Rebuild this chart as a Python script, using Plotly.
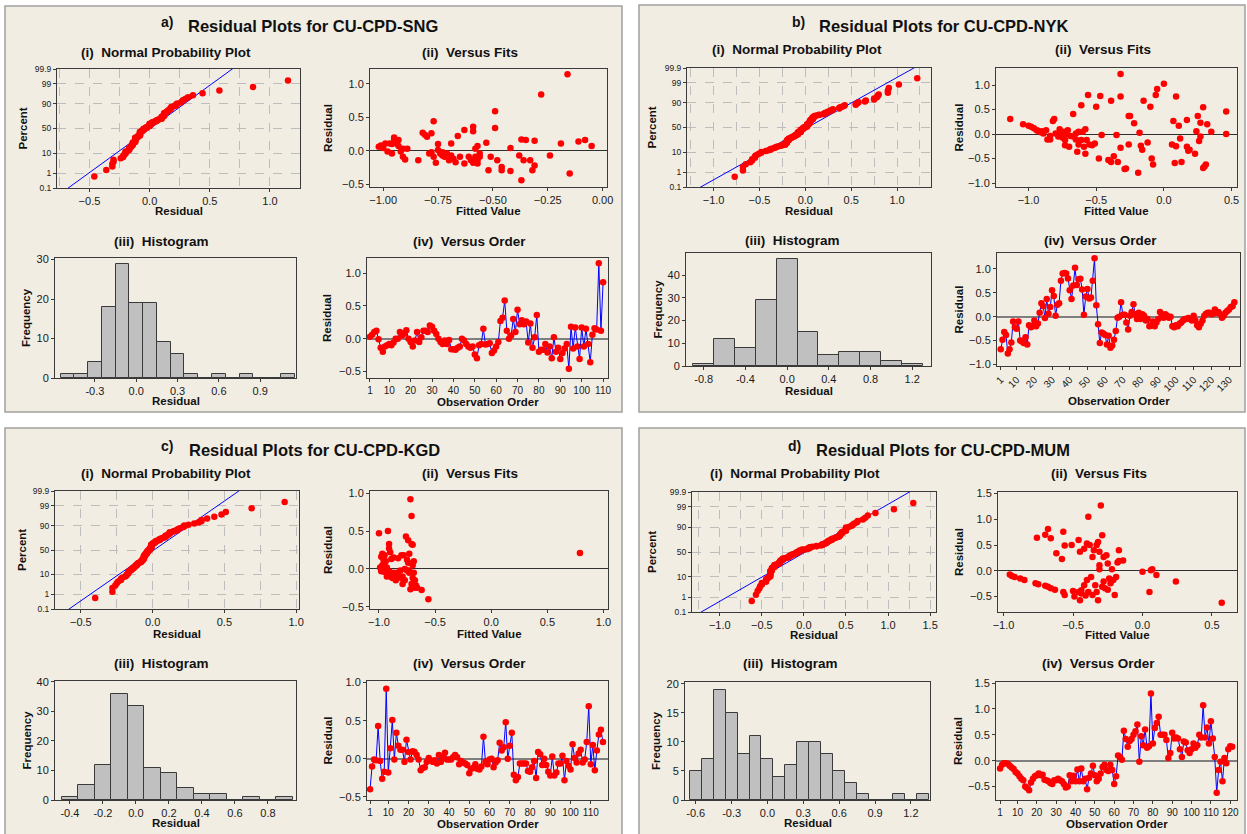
import plotly.graph_objects as go
from statistics import NormalDist, mean, stdev

# ------------------------------------------------------------------ data
resid_sng = [0.03, 0.06, 0.10, 0.12, -0.01, -0.14, -0.20, -0.12, -0.10, -0.08,
             -0.10, -0.06, 0.00, 0.00, 0.10, 0.05, 0.08, 0.13, 0.00, -0.05,
             -0.12, -0.03, 0.10, -0.05, 0.02, 0.12, 0.12, 0.10, 0.20, 0.18,
             0.12, 0.07, 0.00, -0.05, -0.08, -0.03, -0.08, -0.02, -0.16, -0.16,
             -0.17, -0.14, -0.12, 0.00, -0.03, -0.08, -0.12, -0.14, -0.12, -0.24,
             -0.30, -0.10, -0.08, 0.15, -0.09, -0.08, -0.07, -0.22, -0.18, -0.12,
             -0.05, 0.27, 0.32, 0.58, 0.12, 0.00, 0.05, 0.30, 0.10, 0.44,
             0.22, 0.28, 0.22, 0.26, -0.06, 0.23, -0.14, 0.02, 0.36, -0.20,
             -0.17, -0.17, -0.08, -0.21, -0.12, -0.30, 0.02, -0.20, -0.14, -0.31,
             -0.22, -0.15, -0.08, -0.46, 0.18, -0.15, 0.17, -0.12, -0.31, 0.17,
             -0.12, 0.15, -0.08, -0.36, 0.06, 0.16, 0.14, 1.15, 0.12, 0.86]

resid_nyk = [-0.68, -0.48, -0.32, -0.38, -0.77, -0.68, -0.54, -0.10, -0.22, -0.25,
             -0.10, -0.50, -0.52, -0.55, -0.43, -0.58, -0.18, -0.22, -0.20, -0.08,
             -0.20, -0.14, 0.08, 0.28, 0.22, -0.03, 0.37, 0.06, 0.20, 0.55,
             0.43, 0.02, 0.25, 0.28, 0.75, 0.90, 0.91, 0.90, 0.80, 0.55,
             0.37, 0.65, 1.02, 0.66, 0.78, 0.79, 0.57, 0.04, 0.42, 0.58,
             0.38, 0.40, 0.75, 1.22, 0.24, -0.16, -0.55, -0.33, -0.35, -0.38,
             -0.58, -0.40, -0.65, -0.60, -0.48, -0.30, -0.02, 0.00, 0.30, 0.04,
             0.04, -0.12, -0.27, 0.02, 0.10, 0.26, 0.05, -0.05, 0.08, -0.05,
             0.05, 0.02, -0.08, -0.05, -0.20, -0.18, -0.10, -0.20, -0.12, -0.05,
             0.10, 0.05, -0.02, 0.05, 0.02, -0.02, 0.00, -0.20, -0.22, -0.18,
             -0.20, -0.15, -0.12, -0.08, -0.05, -0.05, -0.03, -0.05, -0.08, 0.02,
             -0.08, -0.18, -0.22, -0.15, -0.08, 0.02, 0.06, 0.08, 0.08, 0.05,
             0.06, 0.15, 0.08, 0.10, 0.05, -0.02, 0.02, 0.08, 0.12, 0.15,
             0.20, 0.22, 0.30]

resid_kgd = [-0.40, -0.10, -0.01, -0.02, 0.43, -0.03, -0.26, -0.17, 0.92, -0.18,
             0.14, 0.51, -0.01, 0.34, 0.17, 0.12, 0.12, -0.04, 0.25, 0.09,
             -0.01, 0.10, 0.09, 0.05, -0.01, -0.15, -0.12, -0.11, -0.04, 0.01,
             -0.02, -0.04, -0.02, -0.06, 0.05, -0.04, 0.02, 0.08, -0.01, -0.01,
             -0.01, 0.02, 0.05, 0.02, -0.07, -0.03, -0.05, -0.06, -0.08, -0.19,
             -0.13, -0.12, -0.07, -0.13, -0.14, -0.10, 0.29, -0.04, -0.07, -0.01,
             0.00, -0.11, -0.05, -0.02, 0.21, 0.11, 0.15, 0.48, 0.00, 0.17,
             0.34, -0.21, -0.28, -0.24, -0.06, -0.06, -0.06, -0.06, -0.16, -0.17,
             -0.11, -0.03, -0.25, 0.09, 0.06, -0.08, 0.00, -0.08, -0.17, -0.22,
             0.03, -0.22, -0.18, -0.06, -0.06, 0.04, -0.28, -0.03, -0.09, -0.14,
             0.19, 0.01, -0.05, 0.07, 0.12, -0.05, -0.01, 0.22, 0.69, -0.07,
             0.18, -0.15, 0.11, 0.32, 0.38, 0.22]

resid_mum = [-0.15, -0.08, -0.05, -0.05, -0.06, -0.10, -0.13, -0.16, -0.22, -0.25,
             -0.30, -0.35, -0.38, -0.50, -0.53, -0.57, -0.42, -0.35, -0.30, -0.28,
             -0.25, -0.28, -0.27, -0.37, -0.38, -0.40, -0.43, -0.45, -0.38, -0.38,
             -0.35, -0.38, -0.40, -0.45, -0.52, -0.50, -0.28, -0.40, -0.29, -0.40,
             -0.17, -0.40, -0.15, -0.40, -0.35, -0.55, -0.33, -0.25, -0.10, -0.28,
             -0.40, -0.35, -0.25, -0.12, -0.08, -0.18, -0.20, -0.08, -0.18, -0.45,
             -0.30, 0.10, 0.07, 0.02, 0.58, 0.42, 0.27, 0.38, 0.42, 0.50,
             0.57, 0.70, -0.02, 0.47, 0.30, 0.60, 0.25, 0.28, 1.30, 0.33,
             0.63, 0.73, 0.85, 0.50, 0.50, 0.50, 0.40, 0.05, 0.15, 0.54,
             0.43, 0.45, 0.43, 0.22, 0.07, 0.37, 0.35, 0.20, 0.15, 0.22,
             0.33, 0.25, 0.30, 0.50, 0.45, 1.07, 0.45, 0.64, 0.33, 0.76,
             0.43, 0.07, -0.62, -0.18, -0.02, -0.40, 0.05, -0.05, 0.22, 0.28,
             0.27]

fits_sng = [(-1.02, 0.06), (-1.01, 0.08), (-1.00, 0.04), (-0.99, 0.11), (-0.98, -0.01),
            (-0.97, 0.11), (-0.96, 0.10), (-0.95, 0.17), (-0.95, 0.20), (-0.94, 0.11),
            (-0.93, 0.16), (-0.93, 0.07), (-0.92, -0.01), (-0.96, -0.04), (-0.91, -0.09),
            (-0.91, 0.03), (-0.90, -0.13), (-0.89, 0.03), (-0.84, -0.14), (-0.82, 0.27),
            (-0.81, 0.24), (-0.80, 0.21), (-0.78, 0.26), (-0.77, 0.44), (-0.79, -0.04),
            (-0.78, -0.02), (-0.77, -0.09), (-0.76, -0.18), (-0.75, 0.01), (-0.75, 0.10),
            (-0.74, -0.04), (-0.73, -0.07), (-0.73, -0.02), (-0.72, -0.09), (-0.71, -0.04),
            (-0.70, -0.14), (-0.69, 0.11), (-0.69, -0.07), (-0.68, -0.12), (-0.67, -0.17),
            (-0.66, 0.22), (-0.65, -0.09), (-0.63, -0.19), (-0.61, -0.09), (-0.60, -0.14),
            (-0.59, -0.18), (-0.58, -0.09), (-0.57, -0.19), (-0.57, -0.14), (-0.56, -0.04),
            (-0.63, 0.31), (-0.59, 0.36), (-0.59, 0.29), (-0.58, 0.03), (-0.57, 0.07),
            (-0.56, -0.09), (-0.53, 0.12), (-0.52, -0.29), (-0.51, -0.09), (-0.49, 0.59),
            (-0.49, 0.34), (-0.48, -0.14), (-0.46, -0.24), (-0.46, -0.29), (-0.42, 0.04),
            (-0.42, -0.30), (-0.38, -0.07), (-0.37, -0.44), (-0.37, 0.17), (-0.36, -0.14),
            (-0.35, 0.16), (-0.33, -0.14), (-0.32, -0.29), (-0.31, -0.22), (-0.31, 0.15),
            (-0.28, 0.84), (-0.24, -0.07), (-0.19, 0.11), (-0.16, 1.14), (-0.15, -0.34),
            (-0.11, 0.14), (-0.08, 0.16), (-0.05, 0.07)]

fits_nyk = [(-1.135, 0.31), (-1.04, 0.20), (-1.00, 0.17), (-0.98, 0.15), (-0.96, 0.12),
            (-0.94, 0.08), (-0.93, 0.07), (-0.91, 0.04), (-0.90, 0.06), (-0.89, 0.01),
            (-0.87, 0.08), (-0.86, -0.11), (-0.84, -0.04), (-0.84, -0.11), (-0.82, 0.27),
            (-0.81, 0.31), (-0.80, 0.01), (-0.78, -0.05), (-0.77, 0.10), (-0.76, 0.00),
            (-0.75, -0.07), (-0.74, 0.05), (-0.73, -0.12), (-0.73, -0.23), (-0.72, 0.00),
            (-0.71, 0.08), (-0.70, -0.26), (-0.69, -0.04), (-0.67, 0.41), (-0.67, -0.05),
            (-0.65, -0.11), (-0.65, 0.01), (-0.64, -0.36), (-0.63, 0.05), (-0.63, -0.21),
            (-0.61, -0.12), (-0.61, 0.59), (-0.60, 0.05), (-0.59, -0.26), (-0.58, 0.10),
            (-0.58, -0.40), (-0.57, -0.12), (-0.56, 0.80), (-0.55, -0.21), (-0.53, -0.23),
            (-0.51, -0.19), (-0.50, 0.56), (-0.48, -0.50), (-0.47, 0.78), (-0.46, -0.02),
            (-0.41, -0.53), (-0.39, -0.57), (-0.39, 0.68), (-0.37, -0.45), (-0.35, -0.02),
            (-0.34, -0.57), (-0.32, 1.23), (-0.32, 0.77), (-0.32, -0.28), (-0.29, -0.71),
            (-0.28, -0.70), (-0.26, 0.37), (-0.25, 0.37), (-0.26, -0.21), (-0.22, 0.22),
            (-0.19, -0.79), (-0.18, 0.03), (-0.17, -0.24), (-0.16, -0.32), (-0.15, 0.68),
            (-0.12, -0.17), (-0.10, 0.56), (-0.09, -0.50), (-0.08, -0.62), (-0.06, 0.80),
            (-0.05, 0.92), (0.00, 1.03), (0.06, -0.21), (0.07, 0.27), (0.08, -0.59),
            (0.09, 0.77), (0.09, -0.25), (0.11, 0.17), (0.12, -0.09), (0.13, -0.57),
            (0.17, 0.29), (0.17, -0.26), (0.18, -0.34), (0.19, -0.32), (0.23, -0.40),
            (0.24, 0.06), (0.25, 0.37), (0.26, -0.14), (0.27, -0.05), (0.27, 0.23),
            (0.29, 0.55), (0.29, -0.69), (0.30, -0.66), (0.31, -0.62), (0.32, 0.20),
            (0.35, 0.05), (0.46, 0.46), (0.46, 0.00)]

fits_kgd = [(-1.00, 0.47), (-0.92, 0.50), (-0.99, 0.02), (-0.98, -0.01), (-0.97, 0.05),
            (-0.96, 0.12), (-0.95, 0.18), (-0.97, 0.20), (-0.98, 0.16), (-0.96, -0.02),
            (-0.95, -0.04), (-0.94, 0.00), (-0.93, 0.02), (-0.92, -0.06), (-0.91, 0.27),
            (-0.91, 0.33), (-0.90, 0.22), (-0.95, 0.08), (-0.93, -0.10), (-0.90, -0.10),
            (-0.89, 0.13), (-0.88, -0.12), (-0.87, 0.15), (-0.87, -0.05), (-0.86, -0.09),
            (-0.85, -0.15), (-0.84, -0.05), (-0.83, -0.08), (-0.82, -0.10), (-0.81, -0.02),
            (-0.80, 0.18), (-0.79, -0.10), (-0.79, -0.20), (-0.78, 0.18), (-0.77, -0.15),
            (-0.76, 0.43), (-0.75, -0.02), (-0.74, 0.38), (-0.74, 0.08), (-0.73, -0.02),
            (-0.72, 0.92), (-0.71, 0.70), (-0.71, 0.33), (-0.72, -0.27), (-0.73, 0.20),
            (-0.70, 0.05), (-0.70, -0.12), (-0.69, -0.05), (-0.71, -0.20), (-0.68, -0.25),
            (-0.67, -0.22), (-0.68, -0.15), (-0.66, -0.25), (-0.70, 0.32), (-0.69, 0.10),
            (-0.62, -0.28), (-0.56, -0.40), (0.79, 0.21), (-0.98, -0.03), (-0.96, 0.06),
            (-0.94, 0.10), (-0.91, -0.03), (-0.89, -0.08), (-0.85, -0.12), (-0.83, 0.14),
            (-0.80, -0.12), (-0.77, 0.00), (-0.75, 0.12), (-0.73, -0.05)]

fits_mum = [(-0.955, -0.07), (-0.94, -0.10), (-0.92, -0.12), (-0.88, -0.15), (-0.85, -0.18),
            (-0.77, -0.24), (-0.75, -0.26), (-0.70, -0.29), (-0.68, -0.31), (-0.66, -0.34),
            (-0.63, -0.37), (-0.62, 0.34), (-0.58, 0.23), (-0.57, -0.41), (-0.56, -0.47),
            (-0.57, 0.76), (-0.56, 0.49), (-0.76, 0.64), (-0.70, 0.70), (-0.68, 0.81),
            (-0.66, 0.63), (-0.51, 0.50), (-0.50, -0.39), (-0.49, -0.50), (-0.46, -0.41),
            (-0.46, 0.60), (-0.45, 0.37), (-0.44, -0.38), (-0.44, -0.44), (-0.45, -0.57),
            (-0.42, 0.43), (-0.42, -0.28), (-0.41, -0.48), (-0.40, 0.53), (-0.40, -0.18),
            (-0.39, -0.41), (-0.39, 1.05), (-0.38, 0.50), (-0.37, -0.12), (-0.36, -0.47),
            (-0.36, 0.27), (-0.35, 0.40), (-0.34, -0.28), (-0.33, -0.41), (-0.32, -0.57),
            (-0.33, 0.50), (-0.32, 0.56), (-0.31, 0.11), (-0.31, 0.03), (-0.31, 0.37),
            (-0.30, 1.27), (-0.29, 0.69), (-0.29, -0.31), (-0.28, 0.27), (-0.28, -0.21),
            (-0.27, -0.34), (-0.26, 0.30), (-0.25, 0.14), (-0.25, -0.37), (-0.24, -0.15),
            (-0.23, -0.24), (-0.22, 0.03), (-0.21, -0.18), (-0.20, -0.47), (-0.19, -0.12),
            (-0.18, 0.16), (-0.17, 0.40), (-0.17, 0.19), (-0.14, 0.20), (0.00, -0.02),
            (0.06, 0.01), (0.07, 0.03), (0.05, -0.41), (0.10, -0.08), (0.24, -0.21),
            (0.57, -0.62)]

# histogram bins (centres) and frequencies
hist_sng_bins = [-0.5, -0.4, -0.3, -0.2, -0.1, 0.0, 0.1, 0.2, 0.3, 0.4, 0.5, 0.6, 0.7, 0.8, 0.9, 1.0, 1.1]
hist_sng_freq = [1, 1, 4, 18, 29, 19, 19, 9, 6, 1, 0, 1, 0, 1, 0, 0, 1]
hist_nyk_bins = [-0.8, -0.6, -0.4, -0.2, 0.0, 0.2, 0.4, 0.6, 0.8, 1.0, 1.2]
hist_nyk_freq = [1, 12, 8, 29, 47, 15, 5, 6, 6, 2, 1]
hist_kgd_bins = [-0.4, -0.3, -0.2, -0.1, 0.0, 0.1, 0.2, 0.3, 0.4, 0.5, 0.6, 0.7, 0.8, 0.9]
hist_kgd_freq = [1, 5, 12, 36, 32, 11, 9, 4, 2, 2, 0, 1, 0, 1]
hist_mum_bins = [-0.6, -0.5, -0.4, -0.3, -0.2, -0.1, 0.0, 0.1, 0.2, 0.3, 0.4, 0.5, 0.6, 0.7,
                 0.8, 0.9, 1.0, 1.1, 1.2, 1.3]
hist_mum_freq = [5, 7, 19, 15, 8, 11, 7, 4, 6, 10, 10, 8, 5, 3, 1, 0, 0, 1, 0, 1]

pct_levels = [0.1, 1, 10, 50, 90, 99, 99.9]
pct_labels = ["0.1", "1", "10", "50", "90", "99", "99.9"]

order_ticks_sng = [1, 10, 20, 30, 40, 50, 60, 70, 80, 90, 100, 110]
order_ticks_nyk = [1, 10, 20, 30, 40, 50, 60, 70, 80, 90, 100, 110, 120, 130]
order_ticks_kgd = [1, 10, 20, 30, 40, 50, 60, 70, 80, 90, 100, 110]
order_ticks_mum = [1, 10, 20, 30, 40, 50, 60, 70, 80, 90, 100, 110, 120]

hist_ticks_sng = [-0.3, 0.0, 0.3, 0.6, 0.9]
hist_ticks_nyk = [-0.8, -0.4, 0.0, 0.4, 0.8, 1.2]
hist_ticks_kgd = [-0.4, -0.2, 0.0, 0.2, 0.4, 0.6, 0.8]
hist_ticks_mum = [-0.6, -0.3, 0.0, 0.3, 0.6, 0.9, 1.2]

# ------------------------------------------------------------------ layout / style
W, H = 1247, 834
FONT = "Liberation Sans"
BEIGE = "#F1EDE3"
RED = "#FF0000"
BLUE = "#0000FF"
GRID = "#BDBDBD"
AXC = "#3A3A3A"

panels = [
    dict(letter="a)", name="Residual Plots for CU-CPD-SNG", resid=resid_sng, fits=fits_sng,
         hb=hist_sng_bins, hf=hist_sng_freq, hw=0.1, hticks=hist_ticks_sng, oticks=order_ticks_sng,
         border=(5, 6, 622, 412), letter_xy=(167, 22), title_xy=(313, 26),
         sub_y=(52, 242), xt_y=(211, 401, 402),
         box=dict(prob=(57, 69, 300, 188), fits=(370, 69, 607, 187),
                  hist=(55, 258, 296, 378), order=(367, 258, 608, 378)),
         rng=dict(prob=[-0.77, 1.25], fitsx=[-1.06, 0.02], fitsy=[-0.54, 1.22],
                  histx=[-0.59, 1.16], histy=[0, 30.4], orderx=[-0.4, 112.3], ordery=[-0.6, 1.23]),
         fits_fmt=".2f", fits_dtick=0.25, hist_dtick=10, otick_angle=0,
         sub_x=(166, 470, 161, 469), ytitle_x=(22, 328, 26, 327)),
    dict(letter="b)", name="Residual Plots for CU-CPD-NYK", resid=resid_nyk, fits=fits_nyk,
         hb=hist_nyk_bins, hf=hist_nyk_freq, hw=0.2, hticks=hist_ticks_nyk, oticks=order_ticks_nyk,
         border=(639, 5, 1245, 412), letter_xy=(798, 22), title_xy=(943, 26),
         sub_y=(50, 240), xt_y=(211, 391, 401),
         box=dict(prob=(687, 68, 931, 187), fits=(996, 68, 1237, 187),
                  hist=(686, 253, 931, 366), order=(997, 253, 1240, 366)),
         rng=dict(prob=[-1.29, 1.37], fitsx=[-1.24, 0.54], fitsy=[-1.08, 1.35],
                  histx=[-0.97, 1.38], histy=[0, 49.8], orderx=[-1.1, 136.2], ordery=[-1.03, 1.33]),
         fits_fmt=".1f", fits_dtick=0.5, hist_dtick=10, otick_angle=-45,
         sub_x=(797, 1103, 792, 1100), ytitle_x=(652, 959, 657, 958)),
    dict(letter="c)", name="Residual Plots for CU-CPD-KGD", resid=resid_kgd, fits=fits_kgd,
         hb=hist_kgd_bins, hf=hist_kgd_freq, hw=0.1, hticks=hist_ticks_kgd, oticks=order_ticks_kgd,
         border=(5, 428, 622, 840), letter_xy=(167, 446), title_xy=(314, 450),
         sub_y=(473, 663), xt_y=(634, 823, 824),
         box=dict(prob=(55, 491, 299, 609), fits=(370, 491, 608, 609),
                  hist=(55, 681, 296, 800), order=(367, 681, 608, 800)),
         rng=dict(prob=[-0.68, 1.02], fitsx=[-1.08, 1.04], fitsy=[-0.53, 1.03],
                  histx=[-0.49, 0.97], histy=[0, 40.3], orderx=[-0.5, 118.5], ordery=[-0.54, 1.02]),
         fits_fmt=".1f", fits_dtick=0.5, hist_dtick=10, otick_angle=0,
         sub_x=(166, 470, 161, 469), ytitle_x=(22, 328, 26, 327)),
    dict(letter="d)", name="Residual Plots for CU-CPD-MUM", resid=resid_mum, fits=fits_mum,
         hb=hist_mum_bins, hf=hist_mum_freq, hw=0.1, hticks=hist_ticks_mum, oticks=order_ticks_mum,
         border=(639, 428, 1245, 840), letter_xy=(794, 446), title_xy=(943, 450),
         sub_y=(473, 663), xt_y=(635, 823, 824),
         box=dict(prob=(692, 492, 936, 612), fits=(998, 492, 1237, 612),
                  hist=(685, 682, 930, 800), order=(996, 682, 1237, 800)),
         rng=dict(prob=[-1.33, 1.57], fitsx=[-1.04, 0.68], fitsy=[-0.8, 1.53],
                  histx=[-0.69, 1.36], histy=[0, 20.3], orderx=[-1.1, 123.5], ordery=[-0.76, 1.52]),
         fits_fmt=".1f", fits_dtick=0.5, hist_dtick=5, otick_angle=0,
         sub_x=(795, 1099, 790, 1098), ytitle_x=(652, 959, 656, 958)),
]

nd = NormalDist()
fig = go.Figure()
layout = dict(width=W, height=H, margin=dict(l=0, r=0, t=0, b=0),
              paper_bgcolor="white", plot_bgcolor="white", showlegend=False,
              bargap=0, font=dict(family=FONT, color="#1A1A1A"))
shapes, annotations = [], []


def px(x):
    return x / W


def py(y):
    return 1 - y / H


def base_axis(**kw):
    d = dict(showline=True, mirror=True, linecolor=AXC, linewidth=1, ticks="outside",
             ticklen=3, tickcolor=AXC, tickfont=dict(family=FONT, size=11, color="#1A1A1A"),
             showgrid=False, zeroline=False, automargin=False, fixedrange=True)
    d.update(kw)
    return d


def ann(text, x, y, size, bold=True, angle=0):
    annotations.append(dict(text=("<b>%s</b>" % text) if bold else text, x=px(x), y=py(y),
                            xref="paper", yref="paper", xanchor="center", yanchor="middle",
                            showarrow=False, textangle=angle,
                            font=dict(family=FONT, size=size, color="#111111")))


k = 0
for p in panels:
    b0 = p["border"]
    shapes.append(dict(type="rect", xref="paper", yref="paper", layer="below",
                       x0=px(b0[0]), x1=px(b0[2]), y0=py(b0[3]), y1=py(b0[1]),
                       fillcolor=BEIGE, line=dict(color="#A0A0A0", width=1.5)))
    ann(p["letter"], *p["letter_xy"], 14)
    ann(p["name"], *p["title_xy"], 16.5)
    sx, sy = p["sub_x"], p["sub_y"]
    ann("(i)\u00a0\u00a0Normal Probability Plot", sx[0], sy[0], 13.5)
    ann("(ii)\u00a0\u00a0Versus Fits", sx[1], sy[0], 13.5)
    ann("(iii)\u00a0\u00a0Histogram", sx[2], sy[1], 13.5)
    ann("(iv)\u00a0\u00a0Versus Order", sx[3], sy[1], 13.5)

    bx = p["box"]
    xt = p["xt_y"]
    yx = p["ytitle_x"]
    ann("Residual", (bx["prob"][0] + bx["prob"][2]) / 2, xt[0], 11.5)
    ann("Fitted Value", (bx["fits"][0] + bx["fits"][2]) / 2, xt[0], 11.5)
    ann("Residual", (bx["hist"][0] + bx["hist"][2]) / 2, xt[1], 11.5)
    ann("Observation Order", (bx["order"][0] + bx["order"][2]) / 2, xt[2], 11.5)
    ann("Percent", yx[0], (bx["prob"][1] + bx["prob"][3]) / 2, 11.5, angle=-90)
    ann("Residual", yx[1], (bx["fits"][1] + bx["fits"][3]) / 2, 11.5, angle=-90)
    ann("Frequency", yx[2], (bx["hist"][1] + bx["hist"][3]) / 2, 11.5, angle=-90)
    ann("Residual", yx[3], (bx["order"][1] + bx["order"][3]) / 2, 11.5, angle=-90)

    r = p["resid"]
    rg = p["rng"]
    for kind in ["prob", "fits", "hist", "order"]:
        k += 1
        xa = "xaxis" if k == 1 else "xaxis%d" % k
        ya = "yaxis" if k == 1 else "yaxis%d" % k
        xr = "x" if k == 1 else "x%d" % k
        yr = "y" if k == 1 else "y%d" % k
        l, t, rr, bb = bx[kind]
        xdom = [px(l), px(rr)]
        ydom = [py(bb), py(t)]
        if kind == "prob":
            n = len(r)
            srt = sorted(r)
            zs = [nd.inv_cdf((i - 0.3) / (n + 0.4)) for i in range(1, n + 1)]
            mu, sd = mean(r), stdev(r)
            zl = [-3.6, 3.6]
            fig.add_trace(go.Scatter(x=[mu + sd * z for z in zl], y=zl, mode="lines",
                                     line=dict(color=BLUE, width=1), xaxis=xr, yaxis=yr,
                                     hoverinfo="skip"))
            fig.add_trace(go.Scatter(x=srt, y=zs, mode="markers",
                                     marker=dict(color=RED, size=6.5), xaxis=xr, yaxis=yr))
            zt = [nd.inv_cdf(v / 100.0) for v in pct_levels]
            layout[xa] = base_axis(domain=xdom, anchor=yr, range=rg["prob"], dtick=0.5, tick0=0,
                                   tickformat=".1f", showgrid=True, gridcolor=GRID,
                                   griddash="dash", gridwidth=1,
                                   minor=dict(dtick=0.25, tick0=0, showgrid=True, gridcolor=GRID,
                                              griddash="dash", gridwidth=1, ticks=""))
            layout[ya] = base_axis(domain=ydom, anchor=xr, range=[zt[0], zt[-1]],
                                   tickmode="array", tickvals=zt, ticktext=pct_labels,
                                   tickfont=dict(family=FONT, size=8.5, color="#1A1A1A"),
                                   showgrid=True, gridcolor=GRID, griddash="dash", gridwidth=1)
        elif kind == "fits":
            fx = [a for a, _ in p["fits"]]
            fy = [b for _, b in p["fits"]]
            fig.add_trace(go.Scatter(x=fx, y=fy, mode="markers",
                                     marker=dict(color=RED, size=6.5), xaxis=xr, yaxis=yr))
            layout[xa] = base_axis(domain=xdom, anchor=yr, range=rg["fitsx"],
                                   dtick=p["fits_dtick"], tick0=0, tickformat=p["fits_fmt"])
            layout[ya] = base_axis(domain=ydom, anchor=xr, range=rg["fitsy"], dtick=0.5, tick0=0,
                                   tickformat=".1f", zeroline=True, zerolinecolor="#303030",
                                   zerolinewidth=1)
        elif kind == "hist":
            fig.add_trace(go.Bar(x=p["hb"], y=p["hf"], width=p["hw"],
                                 marker=dict(color="#C0C0C0", line=dict(color="#3A3A3A", width=1)),
                                 xaxis=xr, yaxis=yr))
            layout[xa] = base_axis(domain=xdom, anchor=yr, range=rg["histx"], tickmode="array",
                                   tickvals=p["hticks"],
                                   ticktext=["%.1f" % v for v in p["hticks"]])
            layout[ya] = base_axis(domain=ydom, anchor=xr, range=rg["histy"],
                                   dtick=p["hist_dtick"], tick0=0)
        else:
            idx = list(range(1, len(r) + 1))
            fig.add_trace(go.Scatter(x=idx, y=r, mode="lines+markers",
                                     line=dict(color=BLUE, width=1),
                                     marker=dict(color=RED, size=6.5), xaxis=xr, yaxis=yr))
            layout[xa] = base_axis(domain=xdom, anchor=yr, range=rg["orderx"], tickmode="array",
                                   tickvals=p["oticks"], ticktext=[str(v) for v in p["oticks"]],
                                   tickangle=p["otick_angle"],
                                   tickfont=dict(family=FONT, size=10, color="#1A1A1A"))
            layout[ya] = base_axis(domain=ydom, anchor=xr, range=rg["ordery"], dtick=0.5, tick0=0,
                                   tickformat=".1f", zeroline=True, zerolinecolor="#7F7F7F",
                                   zerolinewidth=2)

layout["shapes"] = shapes
layout["annotations"] = annotations
fig.update_layout(**layout)
fig.write_html("out.html", config={"displayModeBar": False},
               post_script="document.body.style.margin='0px';"
                           "document.body.style.overflow='hidden';")
